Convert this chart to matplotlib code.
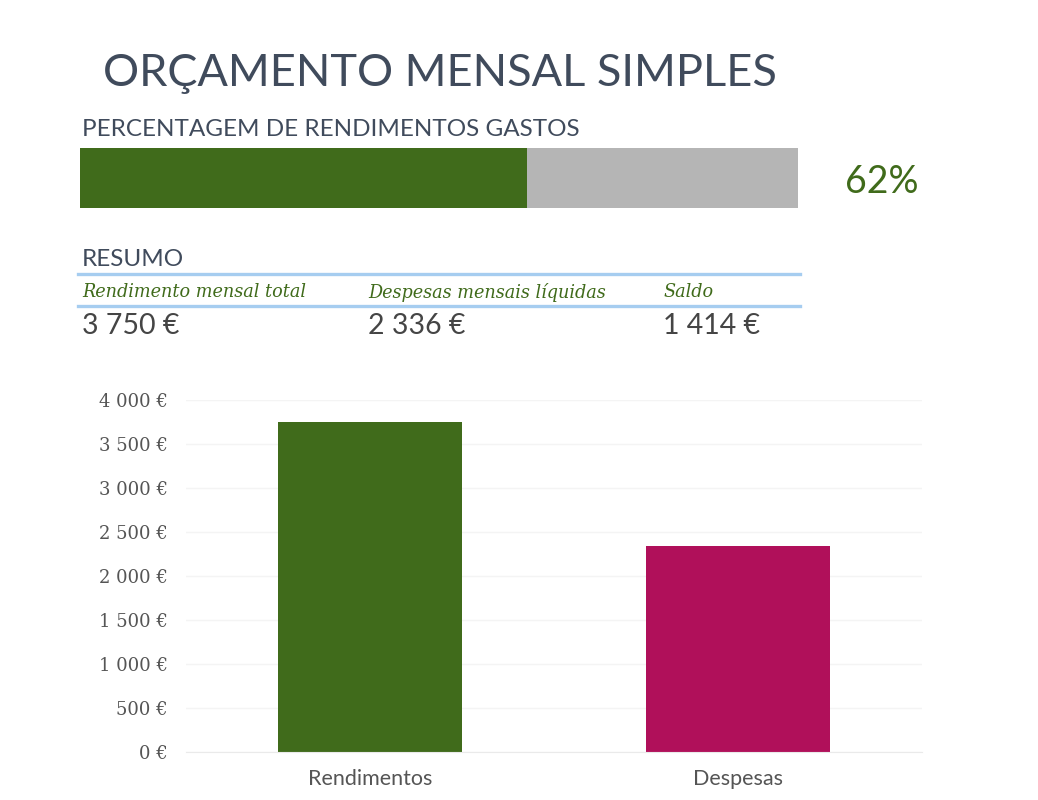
import matplotlib.pyplot as plt
from matplotlib.ticker import FuncFormatter

categories = ['Rendimentos', 'Despesas']
values = [3750, 2336]
summary_labels = ['Rendimento mensal total', 'Despesas mensais líquidas', 'Saldo']
summary_values = [3750, 2336, 1414]
yticks = [0, 500, 1000, 1500, 2000, 2500, 3000, 3500, 4000]

green = '#406b1b'
magenta = '#b0105a'
slate = '#404b5c'
sans = ['Lato', 'DejaVu Sans']
serif = ['DejaVu Serif']


def euro(v):
    s = f'{int(v):,}'.replace(',', ' ')
    return s + ' €'


fig = plt.figure(figsize=(10.38, 8), dpi=100)
W, H = 1038, 800


def fx(px):
    return px / W


def fy(py):
    return 1 - py / H


fig.text(fx(103), fy(73), 'ORÇAMENTO MENSAL SIMPLES', fontsize=32.5, color=slate,
         family=sans, va='center', ha='left')
fig.text(fx(82), fy(130), 'PERCENTAGEM DE RENDIMENTOS GASTOS', fontsize=17.5,
         color=slate, family=sans, va='center', ha='left')

# barra de progresso
pct = values[1] / values[0]
ax_p = fig.add_axes([fx(80), fy(208), fx(798) - fx(80), fy(148) - fy(208)])
ax_p.barh([0], [1], color='#b5b5b5', height=1)
ax_p.barh([0], [pct], color=green, height=1)
ax_p.set_xlim(0, 1)
ax_p.set_ylim(-0.5, 0.5)
ax_p.axis('off')
fig.text(fx(845), fy(182), f'{pct:.0%}', fontsize=27, color=green, family=sans,
         va='center', ha='left')

# resumo
fig.text(fx(82), fy(260), 'RESUMO', fontsize=17.5, color=slate, family=sans,
         va='center', ha='left')
for yy in [274, 306]:
    fig.add_artist(plt.Line2D([fx(78), fx(800)], [fy(yy), fy(yy)], color='#a6cdf0',
                              linewidth=2.4))
xs = [82, 368, 663]
for x, lab, val in zip(xs, summary_labels, summary_values):
    fig.text(fx(x), fy(292), lab, fontsize=12.7, color=green, family=serif,
             style='italic', va='center', ha='left')
    fig.text(fx(x), fy(326), euro(val), fontsize=20.5, color='#454545', family=sans,
             va='center', ha='left')

# gráfico de barras
ax = fig.add_axes([fx(186), fy(752), fx(922) - fx(186), fy(400) - fy(752)])
ax.bar(range(len(categories)), values, width=0.5, color=[green, magenta])
ax.set_xlim(-0.5, 1.5)
ax.set_ylim(0, 4000)
ax.set_yticks(yticks)
ax.yaxis.set_major_formatter(FuncFormatter(lambda v, p: euro(v)))
ax.set_xticks(range(len(categories)))
ax.set_xticklabels(categories, family=sans, fontsize=15.5, color='#555555')
for lbl in ax.get_yticklabels():
    lbl.set_family(serif)
    lbl.set_fontsize(13)
    lbl.set_color('#555555')
ax.tick_params(length=0, pad=13, axis='y')
ax.tick_params(length=0, pad=12, axis='x')
ax.grid(axis='y', color='#f4f4f4', linewidth=1)
ax.set_axisbelow(True)
for s in ax.spines.values():
    s.set_visible(False)
ax.spines['bottom'].set_visible(True)
ax.spines['bottom'].set_color('#eaeaea')

fig.savefig('out.png', dpi=100, facecolor='white')
